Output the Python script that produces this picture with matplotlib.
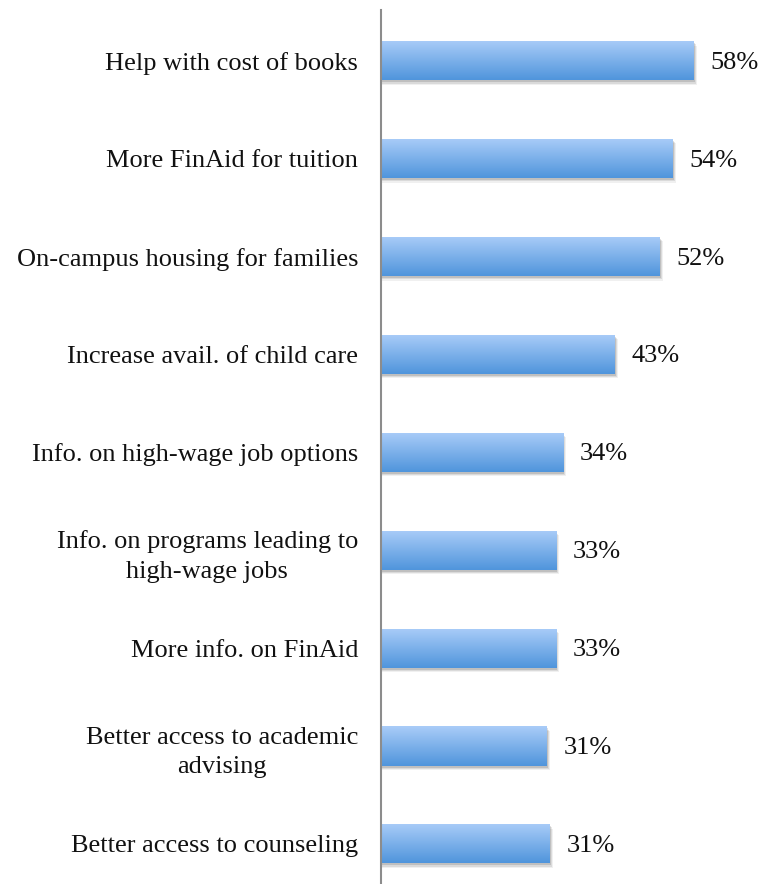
import numpy as np
import matplotlib.pyplot as plt
from matplotlib.colors import LinearSegmentedColormap

categories = [
    'Help with cost of books',
    'More FinAid for tuition',
    'On-campus housing for families',
    'Increase avail. of child care',
    'Info. on high-wage job options',
    'Info. on programs leading to\nhigh-wage jobs',
    'More info. on FinAid',
    'Better access to academic\nadvising',
    'Better access to counseling',
]
values = [57.9, 54.0, 51.6, 43.3, 33.7, 32.4, 32.4, 30.7, 31.2]
value_labels = ['58%', '54%', '52%', '43%', '34%', '33%', '33%', '31%', '31%']

plt.rcParams['font.family'] = ['Liberation Serif', 'DejaVu Serif']

fig = plt.figure(figsize=(7.76, 8.84), dpi=100)
ax = fig.add_axes([381 / 776, 0.0, 395 / 776, 874 / 884])

grad = LinearSegmentedColormap.from_list('bar', ['#a9ccf8', '#5095dc'])
bar_h = 0.4
y = np.arange(len(categories))

for i, v in enumerate(values):
    # soft shadow
    for k, a in enumerate([0.12, 0.09, 0.06]):
        ax.add_patch(plt.Rectangle((0, y[i] - bar_h / 2 + 0.02 + 0.012 * k), v + 0.25 + 0.15 * k, bar_h,
                                   color='black', alpha=a, lw=0, zorder=1))
    im = ax.imshow(np.linspace(0, 1, 64).reshape(-1, 1), cmap=grad, aspect='auto',
                   extent=(0, v, y[i] + bar_h / 2, y[i] - bar_h / 2), zorder=2)
    rect = plt.Rectangle((0, y[i] - bar_h / 2), v, bar_h, transform=ax.transData)
    im.set_clip_path(rect)
    ax.text(v + 3.1, y[i] + 0.02, value_labels[i], va='center', ha='left', fontsize=19, color='#111111')

ax.set_xlim(0, 73.1)
ax.set_ylim(len(categories) - 1 + 0.41, -0.52)
ax.set_yticks(y)
ax.set_yticklabels(categories, fontsize=19, color='#111111', multialignment='center', linespacing=1.45)
ax.tick_params(axis='y', length=0, pad=16.5)
ax.set_xticks([])
for s in ['top', 'right', 'bottom']:
    ax.spines[s].set_visible(False)
ax.spines['left'].set_color('#8c8c8c')
ax.spines['left'].set_linewidth(1.5)

fig.savefig('out.png', dpi=100)
